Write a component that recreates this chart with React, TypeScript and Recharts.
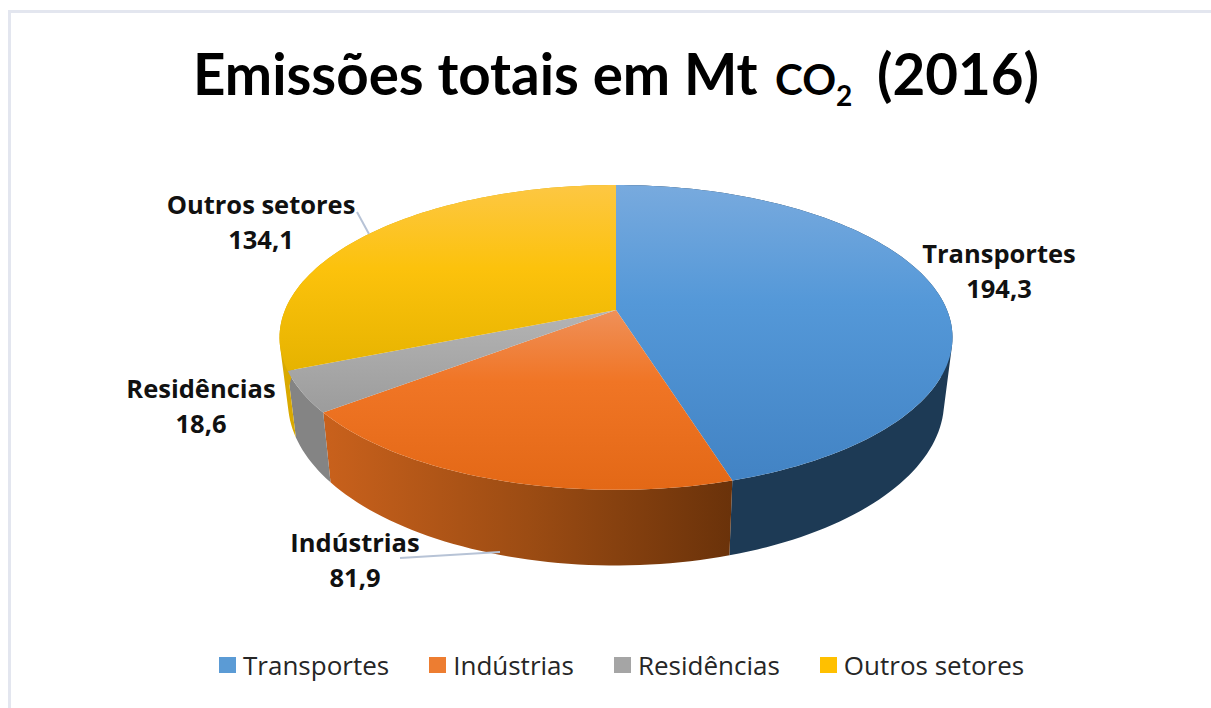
import { PieChart, Pie, Legend } from "recharts";

const sectors = ["Transportes", "Indústrias", "Residências", "Outros setores"];
const emissions = [194.3, 81.9, 18.6, 134.1];
const valueLabels = ["194,3", "81,9", "18,6", "134,1"];
const legendColors = ["#5b9bd5", "#ed7d31", "#a5a5a5", "#ffc000"];
const topFills = ["url(#topBlue)", "url(#topOrange)", "url(#topGray)", "url(#topYellow)"];
const wallFills = ["#1d3a55", "url(#wallOrange)", "#848484", "#d9a900"];

const chartData = sectors.map((name, i) => ({ name, value: emissions[i], fill: legendColors[i] }));

// label centres, kept apart from the data
const labelCenters = [
  { x: 999, y: 263 },
  { x: 355, y: 552 },
  { x: 201, y: 398 },
  { x: 261, y: 214 },
];
const leaderLines: Record<number, string> = {
  1: "M400 558 L500 552",
  3: "M357 212 L369 234",
};

const TITLE_FONT = "Lato, sans-serif";
const FONT = "'Open Sans', sans-serif";

// the pie is tilted and seen in perspective, so a circle point goes through this
const SQUASH = 0.4456;
const PERSPECTIVE = 0.18;
const DEPTH = 62;
const FLOOR_SCALE = 0.975;

const project = (cx: number, cy: number, r: number, angle: number, floor = false) => {
  const rad = ((90 - angle) * Math.PI) / 180;
  const s = Math.sin(rad);
  const down = -Math.cos(rad);
  const w = 1 - PERSPECTIVE * down;
  const x = (r * s) / w;
  const y = (r * SQUASH * down) / w;
  if (!floor) return [cx + x, cy + y];
  return [cx + x * FLOOR_SCALE, cy + y + DEPTH / w];
};

const arcAngles = (from: number, to: number) => {
  const steps = Math.max(2, Math.ceil(Math.abs(to - from) / 1.5));
  const angles: number[] = [];
  for (let i = 0; i <= steps; i++) angles.push(from + ((to - from) * i) / steps);
  return angles;
};

const toPath = (pts: number[][]) =>
  pts.map((p, i) => `${i === 0 ? "M" : "L"}${p[0].toFixed(2)} ${p[1].toFixed(2)}`).join(" ") + " Z";

const TopFace = (props: any) => {
  const { cx, cy, outerRadius, startAngle, endAngle, index } = props;
  const pts = [[cx, cy], ...arcAngles(startAngle, endAngle).map((a) => project(cx, cy, outerRadius, a))];
  return <path d={toPath(pts)} fill={topFills[index]} stroke="none" />;
};

// one quad per arc step, all wound the same way, so the silhouette is a true extrusion
const SideWall = (props: any) => {
  const { cx, cy, outerRadius, startAngle, endAngle, index } = props;
  const angles = arcAngles(startAngle, endAngle);
  const quads: string[] = [];
  for (let i = 0; i < angles.length - 1; i++) {
    const quad = [
      project(cx, cy, outerRadius, angles[i]),
      project(cx, cy, outerRadius, angles[i + 1]),
      project(cx, cy, outerRadius, angles[i + 1], true),
      project(cx, cy, outerRadius, angles[i], true),
    ];
    let area = 0;
    quad.forEach((p, k) => {
      const n = quad[(k + 1) % 4];
      area += p[0] * n[1] - n[0] * p[1];
    });
    quads.push(toPath(area < 0 ? quad.reverse() : quad));
  }
  return <path d={quads.join(" ")} fill={wallFills[index]} stroke="none" />;
};

const SliceLabel = (props: any) => {
  const { index } = props;
  const c = labelCenters[index];
  return (
    <g>
      {leaderLines[index] && <path d={leaderLines[index]} stroke="#b7c3d6" strokeWidth={2} fill="none" />}
      <text x={c.x} y={c.y} textAnchor="middle" fontFamily={FONT} fontWeight={700} fontSize={25.5} fill="#111">
        {sectors[index]}
      </text>
      <text x={c.x} y={c.y + 35} textAnchor="middle" fontFamily={FONT} fontWeight={700} fontSize={25.5} fill="#111">
        {valueLabels[index]}
      </text>
    </g>
  );
};

const LegendRow = ({ payload }: any) => (
  <div style={{ display: "flex", justifyContent: "flex-start", alignItems: "center", gap: 40, paddingLeft: 219, fontFamily: FONT, fontSize: 26, lineHeight: "36px", color: "#262626" }}>
    {sectors.map((name) => {
      const entry = (payload || []).find((p: any) => p.value === name);
      return (
        <div key={name} style={{ display: "flex", alignItems: "center", gap: 7 }}>
          <span style={{ width: 17, height: 16, background: entry?.color, display: "inline-block" }} />
          <span>{name}</span>
        </div>
      );
    })}
  </div>
);

const App = () => {
  return (
    <div style={{ position: "absolute", left: 0, top: 0, width: 1211, height: 708, background: "#fff", overflow: "hidden" }}>
      <div style={{ position: "absolute", left: 8, top: 10, right: 0, bottom: 0, borderTop: "3px solid #e3e6ef", borderLeft: "3px solid #e3e6ef" }} />
      <div style={{ position: "absolute", left: 0, top: 0 }}>
        <PieChart width={1211} height={708} margin={{ top: 0, right: 0, bottom: 0, left: 0 }}>
          <defs>
            <linearGradient id="topBlue" x1="0" y1="0" x2="0" y2="1">
              <stop offset="0%" stopColor="#78aade" />
              <stop offset="40%" stopColor="#5498d8" />
              <stop offset="100%" stopColor="#4283c4" />
            </linearGradient>
            <linearGradient id="topOrange" x1="0" y1="0" x2="0" y2="1">
              <stop offset="0%" stopColor="#ef9059" />
              <stop offset="40%" stopColor="#f07525" />
              <stop offset="100%" stopColor="#e36816" />
            </linearGradient>
            <linearGradient id="topGray" x1="0" y1="0" x2="0" y2="1">
              <stop offset="0%" stopColor="#b4b4b4" />
              <stop offset="100%" stopColor="#9c9c9c" />
            </linearGradient>
            <linearGradient id="topYellow" x1="0" y1="0" x2="0" y2="1">
              <stop offset="0%" stopColor="#fdc743" />
              <stop offset="45%" stopColor="#fcc20c" />
              <stop offset="100%" stopColor="#e6b300" />
            </linearGradient>
            <linearGradient id="wallOrange" x1="0" y1="0" x2="1" y2="0">
              <stop offset="0%" stopColor="#c9611c" />
              <stop offset="50%" stopColor="#9c4c13" />
              <stop offset="100%" stopColor="#6a320a" />
            </linearGradient>
          </defs>
          <text x={193} y={95} fontFamily={TITLE_FONT} fontWeight={700} fontSize={56.5} fill="#000">
            Emissões totais em Mt
            <tspan x={775} fontSize={42}>CO</tspan>
            <tspan fontSize={28} dy={11}>2</tspan>
            <tspan x={877} dy={-11}>(2016)</tspan>
          </text>
          <Pie
            data={chartData}
            dataKey="value"
            nameKey="name"
            cx={616}
            cy={310}
            outerRadius={331}
            startAngle={90}
            endAngle={-270}
            stroke="none"
            legendType="none"
            shape={SideWall}
            isAnimationActive={false}
          />
          <Pie
            data={chartData}
            dataKey="value"
            nameKey="name"
            cx={616}
            cy={310}
            outerRadius={331}
            startAngle={90}
            endAngle={-270}
            stroke="none"
            shape={TopFace}
            label={SliceLabel}
            labelLine={false}
            isAnimationActive={false}
          />
          <Legend content={LegendRow} wrapperStyle={{ left: 0, width: 1211, top: 647 }} />
        </PieChart>
      </div>
    </div>
  );
};

export default App;
